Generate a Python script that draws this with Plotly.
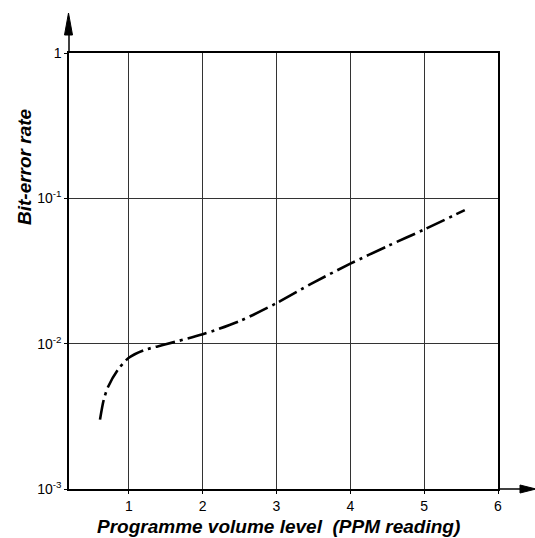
import plotly.graph_objects as go

# Data
ppm_level = [0.61, 0.66, 0.72, 0.85, 1.0, 1.2, 1.5, 2.0, 2.5, 3.0, 3.5, 4.0, 4.5, 5.0, 5.55]
bit_error_rate = [3.0e-3, 4.1e-3, 5.05e-3, 6.6e-3, 8.0e-3, 9.0e-3, 9.9e-3, 1.16e-2, 1.43e-2,
                  1.9e-2, 2.63e-2, 3.55e-2, 4.68e-2, 6.1e-2, 8.3e-2]

x_ticks = [1, 2, 3, 4, 5, 6]
x_tick_text = ["1", "2", "3", "4", "5", "6"]
y_ticks = [1e-3, 1e-2, 1e-1, 1]
y_tick_text = ["10<sup>-3</sup>", "10<sup>-2</sup>", "10<sup>-1</sup>", "1"]

W, H = 535, 538
L, R, T, B = 69, 37, 53, 49
PW = W - L - R
PH = H - T - B


def px(xp):
    return (xp - L) / PW


def py(yp):
    return (H - B - yp) / PH


fig = go.Figure()
fig.add_trace(go.Scatter(
    x=ppm_level, y=bit_error_rate, mode="lines",
    line=dict(color="black", width=2.6, dash="20px,5px,3px,5px", shape="spline", smoothing=0.8),
    showlegend=False, hoverinfo="skip"))

font_ticks = dict(family="Liberation Sans, Arial, sans-serif", size=14, color="black")

fig.update_layout(
    width=W, height=H, autosize=False,
    margin=dict(l=L, r=R, t=T, b=B, pad=0),
    paper_bgcolor="white", plot_bgcolor="white",
    xaxis=dict(range=[0.19, 6.0], tickvals=x_ticks, ticktext=x_tick_text,
               showgrid=True, gridcolor="#333", gridwidth=1,
               showline=True, linecolor="black", linewidth=1.5, mirror=True,
               ticks="outside", ticklen=3, tickcolor="black", tickfont=font_ticks,
               zeroline=False, fixedrange=True),
    yaxis=dict(type="log", range=[-3, 0], tickvals=y_ticks, ticktext=y_tick_text,
               showgrid=True, gridcolor="#333", gridwidth=1,
               showline=True, linecolor="black", linewidth=1.5, mirror=True,
               ticks="outside", ticklen=3, tickcolor="black", tickfont=font_ticks,
               zeroline=False, fixedrange=True),
)

shapes = []
# axis extensions
shapes.append(dict(type="line", xref="paper", yref="paper", x0=0, y0=1, x1=0, y1=py(30),
                   line=dict(color="black", width=1.5)))
shapes.append(dict(type="line", xref="paper", yref="paper", x0=1, y0=0, x1=px(525), y1=0,
                   line=dict(color="black", width=1.5)))
# arrow heads
shapes.append(dict(type="path", xref="paper", yref="paper",
                   path=f"M {px(68.5)} {py(13)} L {px(64.5)} {py(35)} L {px(72.5)} {py(35)} Z",
                   fillcolor="black", line=dict(color="black", width=1)))
shapes.append(dict(type="path", xref="paper", yref="paper",
                   path=f"M {px(536)} {py(489)} L {px(520)} {py(485)} L {px(520)} {py(493)} Z",
                   fillcolor="black", line=dict(color="black", width=1)))
fig.update_layout(shapes=shapes)

title_font = dict(family="Liberation Sans, Arial, sans-serif", size=19, color="black")
fig.add_annotation(text="<b><i>Bit-error rate</i></b>", xref="paper", yref="paper",
                   x=px(24), y=py(167), textangle=-90, showarrow=False,
                   xanchor="center", yanchor="middle", font=title_font)
fig.add_annotation(text="<b><i>Programme volume level  (PPM reading)</i></b>", xref="paper", yref="paper",
                   x=px(278), y=py(526), showarrow=False,
                   xanchor="center", yanchor="middle", font=title_font)

fig.write_html("out.html")
